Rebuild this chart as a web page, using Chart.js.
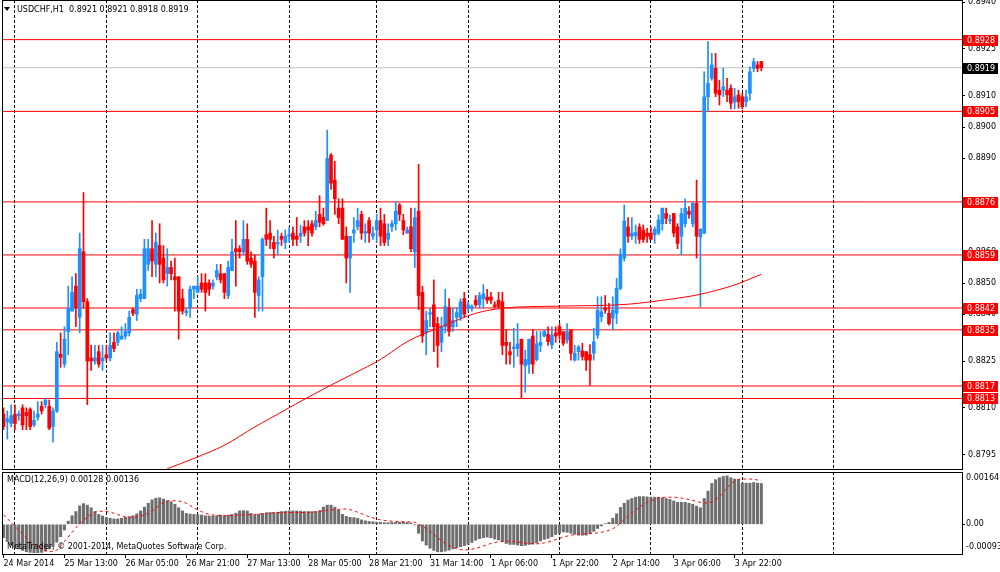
<!DOCTYPE html>
<html>
<head>
<meta charset="utf-8">
<title>USDCHF,H1</title>
<script src="https://cdn.jsdelivr.net/npm/chart.js@4.4.1/dist/chart.umd.min.js"></script>
<style>
    html, body { margin: 0; padding: 0; background: #fff; }
    #wrap { position: relative; width: 1000px; height: 572px; overflow: hidden; }
    canvas { position: absolute; left: 0; }
    #main { top: 0; }
    #macd { top: 470px; }
</style>
</head>
<body>
<div id="wrap">
    <canvas id="main" width="1000" height="470"></canvas>
    <canvas id="macd" width="1000" height="102"></canvas>
</div>
<script>
// prices are in 1/10000 (8808 = 0.8808), one entry per H1 bar, bar 0 = 24 Mar 21:00
const OPEN = [
    8808, 8805.5, 8805, 8808, 8807.5, 8810, 8808.5, 8809.5, 8804.5, 8807,
    8810.5, 8811, 8810.5, 8804, 8809, 8827.2, 8824, 8834.4, 8841, 8849,
    8839, 8860, 8844, 8826, 8825, 8828, 8825, 8827, 8826, 8831,
    8831, 8832, 8833, 8834, 8841.5, 8840, 8845, 8845, 8856, 8861,
    8856, 8862, 8858, 8853, 8855, 8852, 8852, 8845, 8840.5, 8842,
    8848, 8847, 8850, 8850, 8850, 8849, 8852, 8853, 8853, 8846,
    8854, 8861, 8861, 8860, 8864, 8858, 8857, 8846, 8852, 8865.5,
    8866, 8863, 8862.5, 8865, 8863, 8865, 8866, 8865, 8865, 8868,
    8868, 8869, 8868, 8872, 8871, 8870, 8891, 8883, 8874, 8874,
    8865, 8858, 8866, 8868, 8872, 8866, 8870, 8865, 8867, 8870,
    8869, 8864, 8868, 8869, 8875, 8870, 8866, 8868, 8860, 8873,
    8847, 8834, 8840, 8843, 8837, 8831, 8836, 8842, 8836, 8839,
    8839, 8845, 8842, 8842, 8844.5, 8843, 8845, 8845.5, 8845.5, 8843,
    8844.5, 8844, 8831, 8828, 8829, 8829, 8832, 8823.5, 8824, 8833,
    8825.5, 8830, 8833, 8833.5, 8830.2, 8834, 8836, 8834.4, 8831.7, 8835,
    8825.3, 8828, 8828.2, 8828, 8827, 8827.5, 8833.3, 8839.2, 8842, 8840.3,
    8838.7, 8840.3, 8848.3, 8858, 8868, 8865, 8865.2, 8868, 8867, 8866,
    8866, 8865.4, 8866, 8869, 8872.3, 8870, 8872.3, 8868, 8865, 8869,
    8873, 8869, 8875.5, 8864.8, 8866, 8909.7, 8915.6, 8918.8, 8911.8, 8911.8,
    8911.8, 8912.4, 8908, 8910.3, 8909.7, 8908.1, 8910.8, 8918.8, 8919.9, 8921
];
const HIGH = [
    8810, 8809, 8811, 8811, 8809, 8811, 8810, 8810, 8809, 8812,
    8812, 8813, 8812.5, 8810, 8831, 8834, 8836, 8849, 8852, 8853,
    8866, 8879, 8845, 8830, 8830, 8830, 8830, 8830, 8834, 8834,
    8834.5, 8836, 8837, 8841, 8842, 8848, 8848, 8864, 8864, 8870,
    8866, 8869, 8862, 8861, 8857, 8858, 8852, 8848, 8842, 8849,
    8849, 8852, 8853, 8853, 8851, 8851, 8856, 8856, 8853, 8857,
    8864, 8870, 8862, 8870, 8869, 8860, 8859, 8852, 8864.5, 8874,
    8870, 8865, 8867, 8866, 8867, 8868, 8868, 8871, 8868.5, 8870,
    8870, 8870, 8873, 8878, 8874, 8899, 8891.5, 8889, 8877, 8877,
    8868, 8865, 8871, 8874, 8873, 8869, 8871, 8868, 8872, 8874,
    8872, 8869, 8870, 8876, 8875.5, 8872, 8868, 8874, 8874, 8888,
    8849, 8841, 8842, 8851, 8839, 8839, 8848, 8845, 8842, 8842,
    8845, 8847, 8844, 8843, 8846, 8847, 8849.5, 8848, 8847, 8844,
    8847, 8847, 8835, 8831, 8835.5, 8837, 8832, 8828.5, 8832, 8835,
    8834.5, 8834.5, 8835, 8836, 8836, 8836, 8837, 8834.4, 8837, 8835,
    8830, 8830, 8830.7, 8828, 8830.3, 8835.5, 8845.6, 8845.6, 8846, 8843.5,
    8845.6, 8851.5, 8861, 8875, 8871, 8871, 8868.6, 8869, 8868.6, 8867.5,
    8868, 8868, 8871.8, 8874, 8874, 8871.8, 8872.3, 8869, 8874, 8877,
    8874.5, 8876, 8883, 8867.5, 8917.7, 8927.4, 8923.6, 8923.6, 8915, 8918.8,
    8915.6, 8913.5, 8912.4, 8911.8, 8910.8, 8911.8, 8919.3, 8922, 8921, 8921
];
const LOW = [
    8803, 8800, 8804, 8803, 8806, 8803, 8803, 8803, 8804, 8806,
    8808, 8810, 8803, 8799, 8808.5, 8823, 8823, 8827, 8841, 8836,
    8834, 8842, 8811, 8822, 8824, 8823, 8822, 8825, 8825, 8828,
    8830, 8832, 8832, 8833, 8839.5, 8838, 8844, 8845, 8854, 8852,
    8852, 8850, 8850, 8849, 8851, 8841, 8832, 8840, 8839.5, 8839,
    8845, 8847, 8847, 8841, 8846, 8848, 8851, 8850, 8845, 8845,
    8854, 8849, 8858, 8859, 8856, 8855, 8839, 8841, 8841, 8862,
    8861, 8858, 8859, 8862, 8861, 8863, 8862, 8862, 8863, 8865,
    8862, 8865, 8867, 8868, 8868.5, 8870, 8880, 8872, 8869, 8864,
    8850, 8847, 8863, 8867, 8864, 8863, 8863, 8864, 8863, 8862,
    8862, 8862, 8866.5, 8867, 8870, 8865.5, 8866, 8860, 8855, 8841.5,
    8831, 8827, 8836, 8828, 8823, 8828, 8834, 8833, 8834.5, 8836,
    8838, 8839, 8841, 8841, 8842.5, 8842, 8842, 8843.5, 8843.5, 8842,
    8842, 8827, 8824, 8824, 8823, 8826.5, 8813, 8815, 8821, 8821,
    8825, 8828, 8832.7, 8830, 8829, 8831, 8832, 8830, 8830.7, 8825.3,
    8825, 8825.3, 8825.3, 8822, 8817.3, 8825.3, 8832.2, 8837.6, 8840.3, 8836.5,
    8835, 8837, 8847.8, 8857, 8863, 8864, 8862.7, 8862.7, 8863, 8863,
    8863.8, 8862.7, 8865.4, 8867, 8869, 8869, 8864.8, 8861, 8859, 8868,
    8870.7, 8868, 8858, 8842.4, 8865.8, 8905, 8915, 8909.7, 8907, 8909.7,
    8908.1, 8905.8, 8905.8, 8906, 8905.8, 8906.5, 8908.6, 8917.7, 8917.7, 8918
];
const CLOSE = [
    8804, 8806.5, 8807.5, 8805, 8808, 8804.5, 8807.5, 8804, 8806, 8808,
    8809, 8812.5, 8803.5, 8809, 8828, 8826.2, 8832, 8841.9, 8847, 8842,
    8861, 8844, 8825, 8825, 8826, 8824, 8826, 8826, 8830, 8829,
    8834, 8833, 8834.5, 8839, 8840.3, 8846, 8846.5, 8861, 8861, 8857,
    8863, 8856, 8851, 8855, 8853, 8851, 8841, 8841, 8841, 8848,
    8849, 8849, 8848, 8847, 8848, 8850, 8854, 8851, 8847, 8855,
    8860, 8860, 8860, 8864, 8857, 8856, 8847, 8851, 8864, 8864,
    8864, 8861, 8863, 8864, 8865, 8865.5, 8864, 8864, 8866, 8866,
    8867, 8866, 8870, 8869.5, 8869, 8890, 8882, 8877, 8871, 8864,
    8858, 8865, 8867, 8870, 8866, 8866.5, 8866, 8866, 8870, 8865,
    8863, 8866, 8869, 8873, 8872, 8867, 8867, 8861, 8871, 8846,
    8833, 8838, 8840.5, 8836, 8830, 8836, 8842.5, 8834.5, 8838, 8840.5,
    8844, 8840, 8843, 8842.5, 8843, 8846, 8846.5, 8844.5, 8844.5, 8842.5,
    8842.5, 8830, 8830, 8827, 8829.5, 8830.5, 8824, 8825.5, 8832, 8824,
    8830.5, 8831, 8834.5, 8831.2, 8833.3, 8833, 8833.3, 8830.7, 8834.4, 8827.5,
    8827.5, 8829.5, 8826.4, 8825.3, 8825.3, 8831.2, 8841.3, 8840.8, 8841.3, 8837,
    8841.3, 8848.3, 8859.2, 8869.9, 8865, 8866, 8866.2, 8864, 8864, 8865,
    8864, 8867.2, 8870.2, 8874, 8870.7, 8870.3, 8866, 8862.7, 8872.3, 8874,
    8872, 8875.5, 8865, 8867.2, 8909.7, 8914, 8919.9, 8910.8, 8910.3, 8912.9,
    8910.3, 8907.6, 8909.7, 8908.1, 8906.5, 8909.7, 8917.7, 8920.9, 8918.8, 8919
];

// moving average, read at a few bars
const MA_BAR = [43, 50, 58, 66, 70, 80, 86, 92, 99, 106, 115, 124, 131, 146, 156, 164, 175, 183, 192, 199];
const MA_VAL = [8790.5, 8793.8, 8798, 8803.9, 8806.6, 8813.4, 8817.3, 8821, 8825.5, 8831.2,
    8836, 8840.3, 8841.9, 8842.6, 8842.8, 8843.2, 8844.8, 8846.4, 8849.4, 8852.8];

// horizontal levels and the current bid
const LEVELS = [8928, 8905, 8876, 8859, 8842, 8835, 8817, 8813];
const BID = 8919;

// MACD(12,26,9), in 0.00001
const MACD_HIST = [
    -42, -54, -65, -73, -77, -82, -86, -88, -89, -89,
    -88, -84, -77, -71, -56, -39, -18, 10, 27, 40,
    58, 65, 60, 52, 40, 31, 26, 21, 19, 17,
    17, 19, 22, 24, 27, 33, 42, 54, 66, 77,
    82, 83, 79, 74, 71, 63, 52, 42, 34, 32,
    31, 30, 29, 27, 26, 26, 27, 29, 27, 29,
    31, 35, 42, 43, 42, 34, 29, 32, 34, 36,
    37, 37, 38, 40, 41, 42, 42, 42, 41, 40,
    40, 40, 40, 43, 54, 60, 60, 54, 44, 31,
    25, 22, 21, 19, 14, 11, 9, 8, 7, 6,
    5, 5, 6, 6, 7, 6, 6, 4, -2, -28,
    -52, -65, -75, -82, -86, -86, -84, -81, -77, -73,
    -70, -67, -63, -57, -50, -45, -42, -40, -42, -46,
    -49, -54, -60, -63, -63, -65, -67, -66, -63, -62,
    -58, -52, -47, -44, -39, -32, -28, -24, -25, -28,
    -31, -34, -34, -34, -29, -22, -13, -5, 2, 6,
    19, 33, 53, 66, 76, 81, 85, 87, 87, 86,
    85, 85, 85, 83, 81, 78, 73, 69, 69, 69,
    66, 63, 57, 52, 81, 104, 128, 140, 146, 150,
    152, 146, 142, 139, 129, 129, 129, 131, 129, 128
];
const SIG_BAR = [0, 2, 4, 6, 8, 10, 12, 14, 16, 18, 20, 22, 24, 26, 28, 30, 32, 34, 36, 38,
    40, 42, 44, 46, 48, 50, 52, 54, 56, 58, 62, 66, 70, 74, 78, 82, 86, 90, 93, 96,
    99, 102, 106, 108, 110, 112, 114, 116, 118, 120, 122, 124, 126, 128, 130, 132, 134, 136, 138, 140,
    142, 144, 146, 148, 150, 152, 154, 156, 158, 160, 162, 164, 166, 168, 170, 172, 174, 176, 178, 180,
    182, 184, 186, 188, 190, 192, 194, 196, 198, 199];
const SIG_VAL = [30, 6, -18, -42, -62, -77, -85, -80, -54, -25, 2, 22, 38, 41, 38, 31, 23, 22, 26, 35,
    51, 68, 74, 73, 66, 52, 40, 31, 28, 27, 29, 31, 35, 37, 37, 39, 45, 48, 38, 24,
    14, 10, 8, 6, -6, -22, -42, -60, -72, -79, -80, -75, -68, -60, -55, -53, -54, -57, -60, -61,
    -58, -52, -44, -37, -32, -30, -29, -27, -22, -14, 4, 26, 45, 62, 74, 82, 85, 85, 82, 78,
    72, 67, 70, 88, 115, 136, 142, 142, 139, 136];

// axes
const PRICE_TICKS = [8940, 8925, 8910, 8900, 8890, 8875, 8860, 8850, 8840, 8825, 8810, 8795];
const PRICE_MIN = 8790.4, PRICE_MAX = 8940.7;
const MACD_MIN = -93, MACD_MAX = 164;
const MACD_LABELS = ['0.00164', '0.00', '-0.00093'];
const DAY_BARS = [3, 27, 51, 75, 98, 122, 146, 170, 194, 218];
const LABEL_BARS = [0, 16, 32, 48, 64, 80, 96, 112, 128, 144, 160, 176, 192];
const TIME_LABELS = ['24 Mar 2014', '25 Mar 13:00', '26 Mar 05:00', '26 Mar 21:00', '27 Mar 13:00',
    '28 Mar 05:00', '28 Mar 21:00', '31 Mar 14:00', '1 Apr 06:00', '1 Apr 22:00',
    '2 Apr 14:00', '3 Apr 06:00', '3 Apr 22:00'];
const X_MIN = -0.4, X_MAX = 251.7;

const BULL = '#1e90ff';
const BEAR = '#ff0000';
const FONT = "8px 'DejaVu Sans'";

Chart.defaults.font.family = "'DejaVu Sans', sans-serif";
Chart.defaults.font.size = 8;
Chart.defaults.color = '#000';

const barIdx = OPEN.map((_, i) => i);
const candleColor = barIdx.map(i => CLOSE[i] >= OPEN[i] ? BULL : BEAR);

// vertical dashed day separators
function dayGridAxis() {
    return {
        type: 'linear', position: 'bottom', min: X_MIN, max: X_MAX, offset: false,
        afterBuildTicks: s => { s.ticks = DAY_BARS.map(v => ({ value: v })); },
        ticks: { display: false },
        grid: { color: '#000', lineWidth: 1, drawTicks: false, offset: false },
        border: { display: false, dash: [3, 2] },
        afterFit: s => { s.height = 0; }
    };
}

const framePlugin = {
    id: 'frame',
    afterDraw(chart) {
        const { ctx, chartArea: a } = chart;
        ctx.save();
        ctx.strokeStyle = '#000';
        ctx.lineWidth = 1;
        ctx.strokeRect(Math.round(a.left) + 0.5, Math.round(a.top) + 0.5,
            Math.round(a.right - a.left), Math.round(a.bottom - a.top));
        ctx.restore();
    }
};

const mainOverlay = {
    id: 'mainOverlay',
    afterDraw(chart) {
        const ctx = chart.ctx;
        const y = chart.scales.y;
        ctx.save();
        // header
        ctx.fillStyle = '#000';
        ctx.beginPath();
        ctx.moveTo(4, 7); ctx.lineTo(10, 7); ctx.lineTo(7, 11); ctx.closePath();
        ctx.fill();
        ctx.font = FONT;
        ctx.textBaseline = 'middle';
        ctx.fillText('USDCHF,H1  0.8921 0.8921 0.8918 0.8919', 17, 10);

        // level price boxes on the axis
        const box = (v, color) => {
            const py = Math.round(y.getPixelForValue(v));
            ctx.fillStyle = color;
            ctx.fillRect(963, py - 5, 35, 11);
            ctx.fillStyle = '#fff';
            ctx.fillText((v / 10000).toFixed(4), 967, py + 0.5);
        };
        LEVELS.forEach(v => box(v, '#ff0000'));
        box(BID, '#000');
        ctx.restore();
    }
};

const levelSets = LEVELS.map(v => ({
    type: 'line',
    data: [{ x: X_MIN, y: v }, { x: X_MAX, y: v }],
    borderColor: '#ff0000', borderWidth: 1, pointRadius: 0, order: 10
}));

new Chart(document.getElementById('main'), {
    type: 'bar',
    data: {
        datasets: [
            ...levelSets,
            {
                type: 'line',
                data: [{ x: X_MIN, y: BID }, { x: X_MAX, y: BID }],
                borderColor: '#c0c0c0', borderWidth: 1, pointRadius: 0, order: 9
            },
            {
                label: 'wick',
                data: barIdx.map(i => ({ x: i, y: [LOW[i], HIGH[i]] })),
                backgroundColor: candleColor,
                barThickness: 1, grouped: false, borderWidth: 0, order: 5
            },
            {
                label: 'body',
                data: barIdx.map(i => ({ x: i, y: [OPEN[i], CLOSE[i]] })),
                backgroundColor: candleColor,
                barThickness: 3, minBarLength: 1, grouped: false, borderWidth: 0, order: 4
            },
            {
                type: 'line',
                data: MA_BAR.map((b, k) => ({ x: b, y: MA_VAL[k] })),
                borderColor: '#ff0000', borderWidth: 1, pointRadius: 0,
                cubicInterpolationMode: 'monotone', order: 1
            }
        ]
    },
    options: {
        responsive: false,
        animation: false,
        events: [],
        devicePixelRatio: 1,
        layout: { padding: { left: 2, top: 0, right: 0, bottom: 1 } },
        plugins: { legend: { display: false }, tooltip: { enabled: false } },
        scales: {
            x: { type: 'linear', min: X_MIN, max: X_MAX, offset: false, display: false },
            xg: dayGridAxis(),
            y: {
                position: 'right', min: PRICE_MIN, max: PRICE_MAX,
                afterBuildTicks: s => { s.ticks = PRICE_TICKS.map(v => ({ value: v })); },
                ticks: { padding: 3, callback: v => (v / 10000).toFixed(4) },
                grid: { drawOnChartArea: false, color: '#000', tickLength: 3 },
                border: { display: false },
                afterFit: s => { s.width = 38; s.paddingTop = 0; s.paddingBottom = 0; }
            }
        }
    },
    plugins: [mainOverlay, framePlugin]
});

const macdOverlay = {
    id: 'macdOverlay',
    afterDraw(chart) {
        const ctx = chart.ctx;
        const a = chart.chartArea;
        const y = chart.scales.y;
        ctx.save();
        ctx.font = FONT;
        ctx.fillStyle = '#000';
        ctx.textBaseline = 'middle';
        ctx.fillText('MACD(12,26,9) 0.00128 0.00136', 7, 10);
        ctx.fillText('MetaTrader, \u00a9 2001-2014, MetaQuotes Software Corp.', 7, 77);
        ctx.fillText(MACD_LABELS[0], 966, a.top + 6);
        ctx.fillText(MACD_LABELS[1], 966, y.getPixelForValue(0));
        ctx.fillText(MACD_LABELS[2], 966, a.bottom - 7);
        ctx.restore();
    }
};

new Chart(document.getElementById('macd'), {
    type: 'bar',
    data: {
        datasets: [
            {
                type: 'line',
                data: SIG_BAR.map((b, k) => ({ x: b, y: SIG_VAL[k] })),
                borderColor: '#ff0000', borderWidth: 1, borderDash: [3, 3], pointRadius: 0,
                cubicInterpolationMode: 'monotone', order: 1
            },
            {
                data: MACD_HIST.map((v, i) => ({ x: i, y: v })),
                backgroundColor: '#6e6e6e',
                barThickness: 2.4, grouped: false, borderWidth: 0, order: 2
            }
        ]
    },
    options: {
        responsive: false,
        animation: false,
        events: [],
        devicePixelRatio: 1,
        layout: { padding: { left: 2, top: 2, right: 0, bottom: 0 } },
        plugins: { legend: { display: false }, tooltip: { enabled: false } },
        scales: {
            x: {
                type: 'linear', position: 'bottom', min: X_MIN, max: X_MAX, offset: false,
                afterBuildTicks: s => { s.ticks = LABEL_BARS.map(v => ({ value: v })); },
                ticks: {
                    align: 'start', maxRotation: 0, autoSkip: false, padding: 1,
                    callback: (v, idx) => TIME_LABELS[idx]
                },
                grid: { drawOnChartArea: false, color: '#000', tickLength: 4, offset: false },
                border: { display: false },
                afterFit: s => { s.height = 18; s.paddingLeft = 0; s.paddingRight = 0; }
            },
            xg: dayGridAxis(),
            y: {
                position: 'right', min: MACD_MIN, max: MACD_MAX,
                afterBuildTicks: s => { s.ticks = [{ value: 0 }]; },
                ticks: { display: false },
                grid: { drawOnChartArea: false, color: '#000', tickLength: 3 },
                border: { display: false },
                afterFit: s => { s.width = 38; s.paddingTop = 0; s.paddingBottom = 0; }
            }
        }
    },
    plugins: [macdOverlay, framePlugin]
});
</script>
</body>
</html>
